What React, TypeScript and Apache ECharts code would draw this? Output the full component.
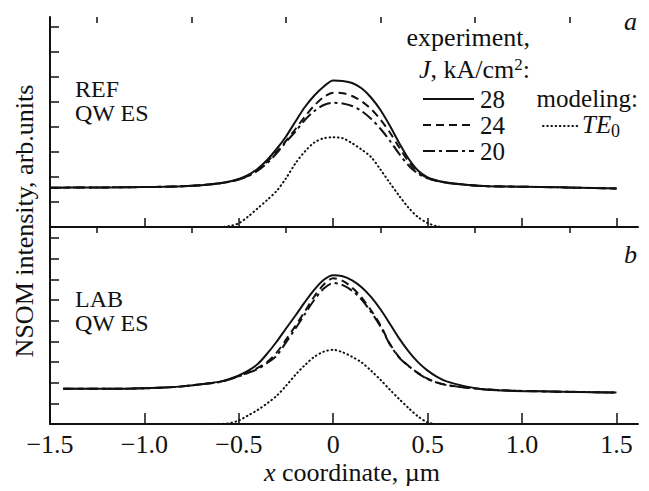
import React, { useEffect, useRef } from "react";
import * as echarts from "echarts";

// ---------- data (x in µm, y in tick units) ----------
const xTop = [-1.5, -1.3, -1.1, -0.9, -0.8, -0.7,
  -0.6, -0.55, -0.5, -0.45, -0.4, -0.35, -0.3, -0.25, -0.2, -0.15, -0.1, -0.05,
  0, 0.05, 0.1, 0.15, 0.2, 0.25, 0.3, 0.35, 0.4, 0.45, 0.5, 0.55,
  0.6, 0.7, 0.8, 0.9, 1.1, 1.3, 1.5];
const topJ28 = [1.57, 1.58, 1.59, 1.61, 1.63, 1.67,
  1.75, 1.82, 1.92, 2.08, 2.33, 2.68, 3.12, 3.62, 4.22, 4.80, 5.26, 5.62,
  5.86, 5.84, 5.76, 5.55, 5.18, 4.68, 4.05, 3.35, 2.72, 2.25, 1.98, 1.85,
  1.78, 1.69, 1.64, 1.62, 1.60, 1.57, 1.54];
const topJ24 = [1.57, 1.58, 1.59, 1.61, 1.63, 1.67,
  1.75, 1.81, 1.91, 2.05, 2.28, 2.62, 3.00, 3.45, 3.92, 4.42, 4.86, 5.20,
  5.37, 5.35, 5.24, 5.03, 4.72, 4.30, 3.78, 3.18, 2.60, 2.20, 1.96, 1.85,
  1.77, 1.69, 1.64, 1.62, 1.60, 1.57, 1.54];
const topJ20 = [1.57, 1.58, 1.59, 1.61, 1.63, 1.67,
  1.75, 1.81, 1.90, 2.04, 2.25, 2.55, 2.95, 3.40, 3.82, 4.28, 4.64, 4.88,
  4.97, 4.94, 4.84, 4.64, 4.33, 3.93, 3.45, 2.92, 2.45, 2.13, 1.95, 1.84,
  1.77, 1.69, 1.64, 1.62, 1.60, 1.57, 1.54];
const xTopTE = [-0.8, -0.75, -0.7, -0.65, -0.6, -0.55, -0.5, -0.45, -0.4, -0.35, -0.3, -0.25, -0.2, -0.15, -0.1, -0.05,
  0, 0.05, 0.1, 0.15, 0.2, 0.25, 0.3, 0.35, 0.4, 0.45, 0.5, 0.55, 0.6, 0.65, 0.7, 0.75, 0.8];
const topTE0 = [0, 0, 0, 0, 0, 0.04, 0.15, 0.42, 0.75, 1.08, 1.44, 1.95, 2.55, 3.02, 3.38, 3.55,
  3.59, 3.55, 3.35, 3.10, 2.80, 2.30, 1.76, 1.24, 0.76, 0.39, 0.16, 0.03, 0, 0, 0, 0, 0];

const xBot = [-1.43, -1.3, -1.1, -0.9, -0.8, -0.7,
  -0.6, -0.55, -0.5, -0.45, -0.4, -0.35, -0.3, -0.25, -0.2, -0.15, -0.1, -0.05,
  0, 0.05, 0.1, 0.15, 0.2, 0.25, 0.3, 0.35, 0.4, 0.45, 0.5, 0.55,
  0.6, 0.7, 0.8, 0.9, 1.1, 1.3, 1.5];
const botJ28 = [1.71, 1.71, 1.71, 1.76, 1.82, 1.92,
  2.05, 2.18, 2.35, 2.58, 2.90, 3.40, 3.98, 4.62, 5.25, 5.90, 6.50, 6.98,
  7.20, 7.15, 6.95, 6.62, 6.15, 5.55, 4.85, 4.13, 3.50, 2.98, 2.58, 2.28,
  2.06, 1.82, 1.67, 1.62, 1.58, 1.55, 1.52];
const botJ24 = [1.71, 1.71, 1.71, 1.76, 1.82, 1.92,
  2.04, 2.16, 2.32, 2.50, 2.72, 3.00, 3.45, 4.08, 4.75, 5.45, 6.17, 6.75,
  7.05, 6.92, 6.60, 6.12, 5.50, 4.78, 3.88, 3.22, 2.80, 2.46, 2.19, 2.01,
  1.89, 1.76, 1.68, 1.63, 1.58, 1.55, 1.52];
const botJ20 = [1.71, 1.71, 1.71, 1.76, 1.82, 1.92,
  2.03, 2.15, 2.30, 2.47, 2.66, 2.95, 3.30, 3.95, 4.62, 5.32, 6.01, 6.55,
  6.82, 6.72, 6.45, 6.02, 5.42, 4.72, 3.85, 3.20, 2.80, 2.45, 2.17, 2.00,
  1.88, 1.76, 1.68, 1.63, 1.58, 1.55, 1.52];
const xBotTE = [-0.65, -0.6, -0.55, -0.5, -0.45, -0.4, -0.35, -0.3, -0.25, -0.2, -0.15, -0.1, -0.05,
  0, 0.05, 0.1, 0.15, 0.2, 0.25, 0.3, 0.35, 0.4, 0.45, 0.5, 0.55, 0.6, 0.65];
const botTE0 = [0, 0, 0.04, 0.17, 0.42, 0.68, 1.0, 1.36, 1.85, 2.38, 2.85, 3.25, 3.50,
  3.59, 3.47, 3.25, 2.98, 2.58, 2.14, 1.66, 1.20, 0.76, 0.36, 0.08, 0, 0, 0];

const xMajorTicks = [-1.5, -1.0, -0.5, 0, 0.5, 1.0, 1.5];
const xMinorTicks = [-1.25, -0.75, -0.25, 0.25, 0.75, 1.25];
const yTopTicks = [0, 1, 2, 3, 4, 5, 6, 7, 8];
const yBotTicks = [0, 1, 2, 3, 4, 5, 6, 7, 8, 9];
const legendCurrents = ["28", "24", "20"];

// ---------- styling ----------
const FONT = "Liberation Serif, Times New Roman, serif";
const INK = "#111111";
const FS = 26;
const FS_STACK = 24;

const pair = (xs: number[], ys: number[]) => xs.map((x, i) => [x, ys[i]]);

const dashOf: Record<string, any> = {
  solid: "solid",
  dashed: [8, 5],
  dashdot: [12, 4, 3, 4],
  dotted: [0.6, 3.6],
};

export default function App() {
  const ref = useRef<HTMLDivElement>(null);

  useEffect(() => {
    if (!ref.current) return;
    const chart = echarts.init(ref.current, null, { renderer: "svg" });

    const X_MIN = -1.5;
    const X_MAX = 1.614;

    const xAxisBase = (grid: number, showLabel: boolean, minor: boolean, majorLen: number) => ({
      type: "value",
      gridIndex: grid,
      min: X_MIN,
      max: X_MAX,
      axisLine: { show: !minor, onZero: false, lineStyle: { color: INK, width: 2 } },
      axisTick: {
        show: true,
        inside: true,
        length: minor ? 6 : majorLen,
        customValues: minor ? xMinorTicks : xMajorTicks,
        lineStyle: { color: INK, width: 1.5 },
      },
      axisLabel: {
        show: showLabel && !minor,
        customValues: xMajorTicks,
        margin: 7,
        fontFamily: FONT,
        fontSize: FS,
        color: INK,
        formatter: (v: number) =>
          v < 0 ? "\u2212" + Math.abs(v).toFixed(1) : v === 0 ? "0" : v.toFixed(1),
      },
      splitLine: { show: false },
    });

    const yAxisBase = (grid: number, max: number, ticks: number[]) => ({
      type: "value",
      gridIndex: grid,
      min: 0,
      max,
      axisLine: { show: true, onZero: false, lineStyle: { color: INK, width: 2 } },
      axisTick: {
        show: true,
        inside: true,
        length: 9,
        customValues: ticks,
        lineStyle: { color: INK, width: 1.5 },
      },
      axisLabel: { show: false },
      splitLine: { show: false },
    });

    const lineSeries = (name: string, xi: number, yi: number, xs: number[], ys: number[], kind: string) => ({
      name,
      type: "line",
      xAxisIndex: xi,
      yAxisIndex: yi,
      data: pair(xs, ys),
      showSymbol: false,
      smooth: 0.3,
      lineStyle: {
        color: INK,
        width: 2,
        type: dashOf[kind],
        cap: kind === "dotted" ? "round" : "butt",
      },
      z: 3,
    });

    const txt = (text: string, x: number, y: number, align: string, extra: any = {}) => ({
      type: "text",
      x,
      y,
      style: {
        text,
        fontFamily: FONT,
        fontSize: FS,
        fill: INK,
        align,
        verticalAlign: "middle",
        ...extra,
      },
      z: 10,
    });

    const legendLine = (y: number, kind: string, x1: number, x2: number) => ({
      type: "line",
      shape: { x1, y1: y, x2, y2: y },
      style: {
        stroke: INK,
        lineWidth: 2,
        lineDash: kind === "solid" ? null : dashOf[kind],
        lineCap: kind === "dotted" ? "round" : "butt",
      },
      z: 10,
    });

    const rowYs = [99, 125, 151];
    const kinds = ["solid", "dashed", "dashdot"];
    const stack = { fontSize: FS_STACK, lineHeight: 24 };

    const option: any = {
      animation: false,
      backgroundColor: "#ffffff",
      grid: [
        { left: 50, top: 17, width: 588, height: 210 },
        { left: 50, top: 227, width: 588, height: 197 },
      ],
      xAxis: [
        xAxisBase(0, false, false, 9),
        xAxisBase(0, false, true, 9),
        xAxisBase(1, true, false, 11),
        xAxisBase(1, false, true, 11),
      ],
      yAxis: [yAxisBase(0, 8.4, yTopTicks), yAxisBase(1, 9.53, yBotTicks)],
      series: [
        lineSeries("a 28", 0, 0, xTop, topJ28, "solid"),
        lineSeries("a 24", 0, 0, xTop, topJ24, "dashed"),
        lineSeries("a 20", 0, 0, xTop, topJ20, "dashdot"),
        lineSeries("a TE0", 0, 0, xTopTE, topTE0, "dotted"),
        lineSeries("b 28", 2, 1, xBot, botJ28, "solid"),
        lineSeries("b 24", 2, 1, xBot, botJ24, "dashed"),
        lineSeries("b 20", 2, 1, xBot, botJ20, "dashdot"),
        lineSeries("b TE0", 2, 1, xBotTE, botTE0, "dotted"),
      ],
      graphic: [
        // panel letters
        txt("a", 637, 21, "right", { fontStyle: "italic" }),
        txt("b", 637, 254, "right", { fontStyle: "italic" }),
        // panel labels
        txt("REF\nQW ES", 75, 101, "left", stack),
        txt("LAB\nQW ES", 75, 311, "left", stack),
        // legend header
        txt("experiment,", 530, 37, "right"),
        {
          type: "text",
          x: 530,
          y: 69,
          style: {
            text: "{i|J}, kA/cm{sup|2}:",
            fontFamily: FONT,
            fontSize: FS,
            fill: INK,
            align: "right",
            verticalAlign: "middle",
            rich: {
              i: { fontFamily: FONT, fontSize: FS, fontStyle: "italic", fill: INK, lineHeight: 24 },
              sup: { fontFamily: FONT, fontSize: 17, fill: INK, verticalAlign: "top", lineHeight: 14 },
            },
          },
          z: 10,
        },
        ...kinds.map((k, i) => legendLine(rowYs[i], k, 423, 474)),
        ...legendCurrents.map((c, i) => txt(c, 480, rowYs[i], "left", { fontSize: 25, lineHeight: 24 })),
        txt("modeling:", 638, 98, "right", { fontSize: 25, lineHeight: 24 }),
        legendLine(126, "dotted", 543, 579),
        txt("TE", 582, 124, "left", { fontSize: 25, lineHeight: 22, fontStyle: "italic" }),
        txt("0", 611, 131, "left", { fontSize: 18, lineHeight: 16 }),
        // axis titles
        {
          type: "text",
          x: 24,
          y: 221,
          rotation: Math.PI / 2,
          style: {
            text: "NSOM intensity, arb.units",
            fontFamily: FONT,
            fontSize: FS,
            fill: INK,
            align: "center",
            verticalAlign: "middle",
          },
          z: 10,
        },
        {
          type: "text",
          x: 352,
          y: 472,
          style: {
            text: "{i|x} coordinate, \u00b5m",
            fontFamily: FONT,
            fontSize: FS,
            fill: INK,
            align: "center",
            verticalAlign: "middle",
            rich: {
              i: { fontFamily: FONT, fontSize: FS, fontStyle: "italic", fill: INK },
            },
          },
          z: 10,
        },
      ],
    };

    chart.setOption(option);
    return () => chart.dispose();
  }, []);

  return (
    <div
      ref={ref}
      style={{ position: "fixed", left: 0, top: 0, width: 649, height: 491, background: "#fff" }}
    />
  );
}
